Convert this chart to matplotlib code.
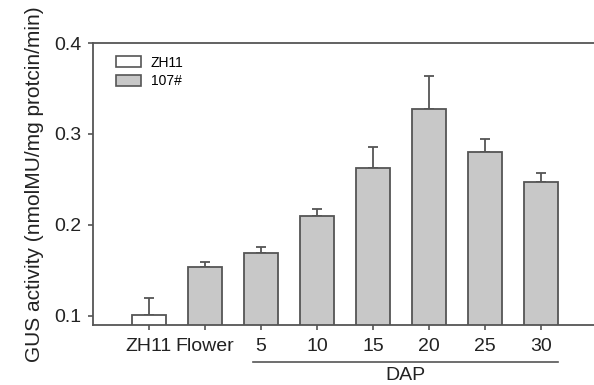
import matplotlib
matplotlib.use('Agg')
import matplotlib.pyplot as plt
import matplotlib.transforms as mtransforms
from matplotlib.patches import Patch

plt.rcParams['font.family'] = ['Liberation Sans', 'DejaVu Sans']

#data
labels = ['ZH11', 'Flower', '5', '10', '15', '20', '25', '30']
values = [0.1008, 0.1535, 0.169, 0.2095, 0.2627, 0.3275, 0.280, 0.247]
errors = [0.019, 0.0055, 0.007, 0.0075, 0.023, 0.036, 0.0145, 0.0098]
groups = ['ZH11', '107#', '107#', '107#', '107#', '107#', '107#', '107#']

fill = {'ZH11': 'white', '107#': '#c8c8c8'}
edge = '#555555'

fig = plt.figure(figsize=(5.94, 3.85), dpi=100)
ax = fig.add_axes([0.1566, 0.1558, 0.8434, 0.7325])

x = list(range(len(labels)))
ax.bar(x, values, width=0.6, color=[fill[g] for g in groups],
       edgecolor=edge, linewidth=1.3, zorder=2)
ax.errorbar(x, values, yerr=[[0] * len(errors), errors], fmt='none',
            ecolor=edge, elinewidth=1.3, capsize=3.6, capthick=1.3, zorder=1)

ax.set_xlim(-1, 7.95)
ax.set_ylim(0.0896, 0.4)
ax.set_yticks([0.1, 0.2, 0.3, 0.4])
ax.set_yticklabels(['0.1', '0.2', '0.3', '0.4'])
ax.set_xticks(x)
ax.set_xticklabels(labels)

for s in ['left', 'bottom', 'top']:
    ax.spines[s].set_color(edge)
    ax.spines[s].set_linewidth(1.3)
ax.spines['right'].set_visible(False)
ax.tick_params(axis='both', direction='out', length=3.5, width=1.2,
               color=edge, labelsize=14, labelcolor='#222222')
ax.tick_params(axis='x', pad=6)
ax.tick_params(axis='y', pad=5)

ax.set_ylabel('GUS activity (nmolMU/mg protcin/min)', fontsize=15,
              color='#222222', labelpad=7)

#DAP bracket under the days
trans = mtransforms.blended_transform_factory(ax.transData, ax.transAxes)
ax.plot([1.86, 7.3], [-0.131, -0.131], color=edge, lw=1.2,
        transform=trans, clip_on=False)
ax.text(4.58, -0.178, 'DAP', transform=trans, ha='center', va='center',
        fontsize=14, color='#222222')

handles = [Patch(facecolor=fill['ZH11'], edgecolor=edge, linewidth=1.2, label='ZH11'),
           Patch(facecolor=fill['107#'], edgecolor=edge, linewidth=1.2, label='107#')]
ax.legend(handles=handles, loc='upper left', bbox_to_anchor=(0.046, 0.955),
          frameon=False, fontsize=10, handlelength=1.8, handleheight=0.85,
          handletextpad=0.7, labelspacing=0.3, borderpad=0, borderaxespad=0)

plt.savefig('out.png', dpi=100)
